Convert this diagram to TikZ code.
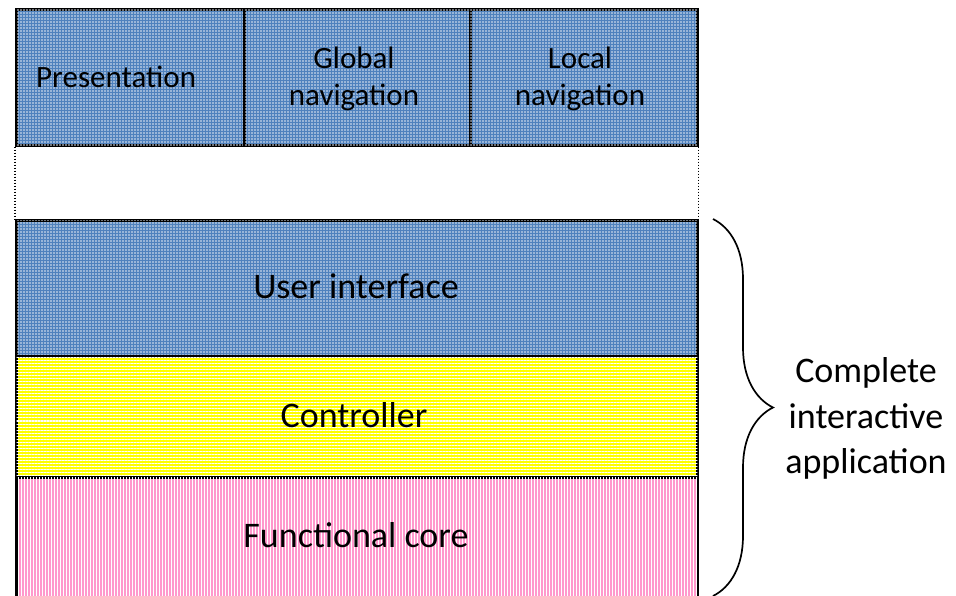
\documentclass[tikz,border=0pt]{standalone}
\usepackage{fontspec}
\setmainfont{Carlito}
\usetikzlibrary{patterns.meta,decorations.pathreplacing}
\definecolor{layerblue}{HTML}{4F81BD}
\definecolor{layeryellow}{HTML}{FFFF00}
\definecolor{layerpink}{HTML}{FF99CC}
\tikzset{
  layer/.style={draw=black, line width=2.5pt, inner sep=0pt, anchor=north west, rectangle},
  bluelayer/.style={layer, fill=layerblue,
    postaction={pattern={Dots[radius=0.8pt, distance=3pt]}, pattern color=white!85!layerblue}},
  yellowlayer/.style={layer, fill=layeryellow,
    postaction={pattern={Lines[angle=0, distance=3pt, line width=1pt]}, pattern color=white}},
  pinklayer/.style={layer, fill=layerpink,
    postaction={pattern={Lines[angle=90, distance=3pt, line width=1pt]}, pattern color=white}},
  smalllbl/.style={inner sep=0pt, font=\fontsize{31}{37}\selectfont},
  biglbl/.style={inner sep=0pt, font=\fontsize{36}{44}\selectfont},
  dotline/.style={line width=1.6pt, dash pattern=on 1.5pt off 1.5pt},
  bracestyle/.style={line width=1.7pt, decorate, decoration={brace, amplitude=60pt}},
}
\begin{document}
\begin{tikzpicture}[x=1pt, y=-1pt]
  \clip (0,0) rectangle (956,595);
  \fill[white] (0,0) rectangle (956,595);

  % top row of presentation cells
  \node[bluelayer, minimum width=228pt, minimum height=136pt] (pres) at (15,8) {};
  \node[bluelayer, minimum width=226pt, minimum height=136pt] (glob) at (243,8) {};
  \node[bluelayer, minimum width=227pt, minimum height=136pt] (loc) at (469,8) {};

  % stacked application layers
  \node[bluelayer, minimum width=681pt, minimum height=136pt] (ui) at (15,219) {};
  \node[yellowlayer, minimum width=681pt, minimum height=121pt] (ctrl) at (15,355) {};
  \node[pinklayer, minimum width=681pt, minimum height=130pt] (core) at (15,476) {};

  % dotted links between the cells and the user interface
  \draw[dotline] (pres.south west) -- (ui.north west);
  \draw[dotline] (loc.south east) -- (ui.north east);

  % labels
  \node[smalllbl, anchor=base west] (tpres) at (36,87) {Presentation};
  \node[smalllbl, anchor=base] (tglob1) at (354,68) {Global};
  \node[smalllbl, anchor=base] (tglob2) at (354,105) {navigation};
  \node[smalllbl, anchor=base] (tloc1) at (580,68) {Local};
  \node[smalllbl, anchor=base] (tloc2) at (580,105) {navigation};
  \node[biglbl, anchor=base] (tui) at (356,298) {User interface};
  \node[biglbl, anchor=base] (tctrl) at (354,427) {Controller};
  \node[biglbl, anchor=base] (tcore) at (356,547) {Functional core};

  % brace spanning the complete application
  \coordinate (bracetop) at (713,219);
  \coordinate (bracebot) at (713,596);
  \draw[bracestyle] (bracetop) -- (bracebot);
  \node[biglbl, anchor=base] (app1) at (866,382) {Complete};
  \node[biglbl, anchor=base] (app2) at (866,428) {interactive};
  \node[biglbl, anchor=base] (app3) at (866,473) {application};
\end{tikzpicture}
\end{document}
